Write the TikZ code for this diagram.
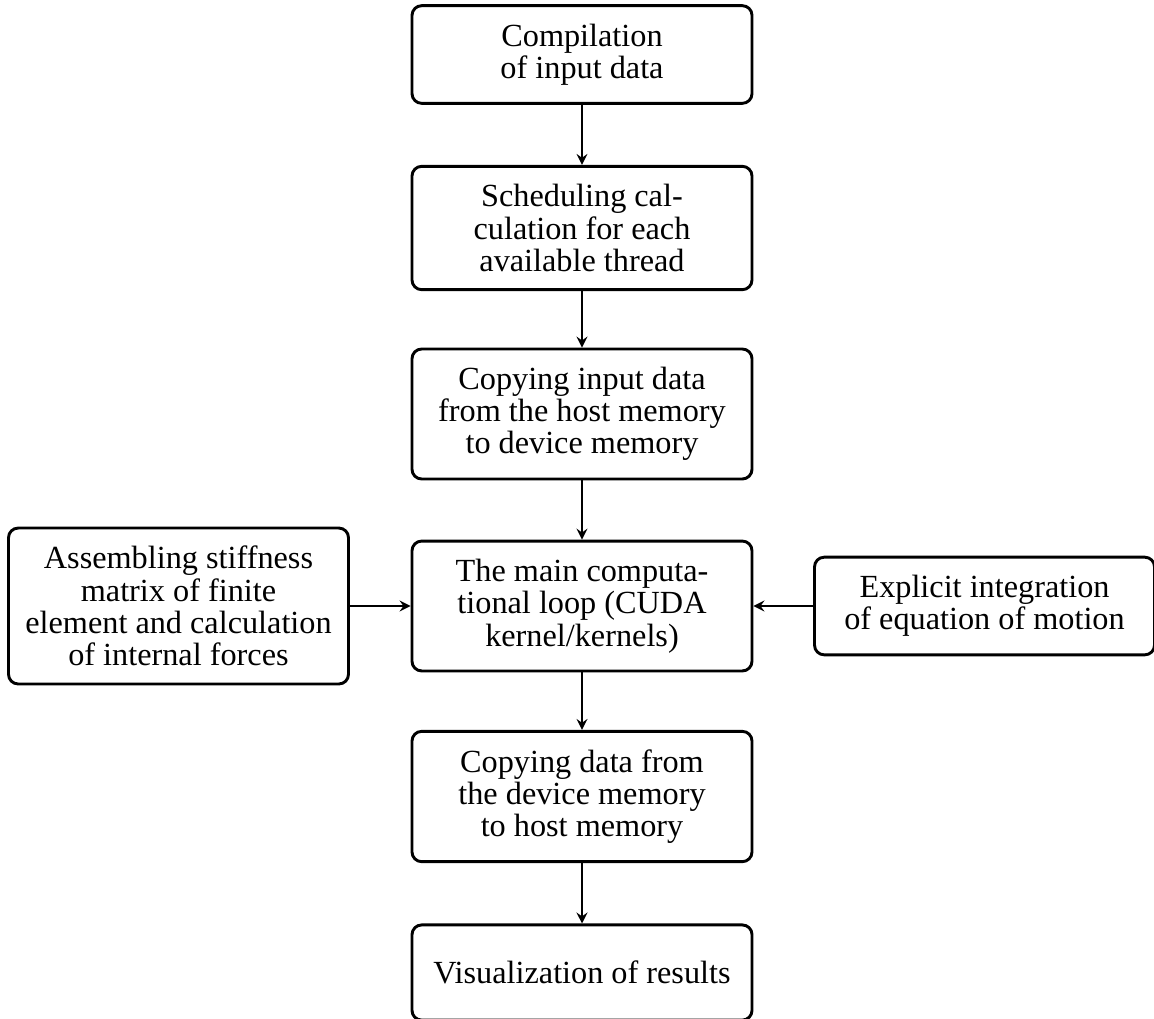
\documentclass[tikz,border=0pt]{standalone}
\usepackage{fontspec}
\setmainfont{Liberation Serif}
\usetikzlibrary{arrows.meta}

\tikzset{
  block/.style={draw, line width=0.9pt, rounded corners=3pt, align=center,
    minimum width=105.4pt, inner xsep=4pt, inner ysep=5.6pt,
    font=\fontsize{10pt}{10pt}\selectfont},
  flow/.style={line width=0.6pt, -{Stealth[length=3.4pt,width=3.4pt,inset=1.2pt]}}
}

\begin{document}
\begin{tikzpicture}[x=0.31pt,y=-0.31pt]
    \useasboundingbox (0,0) rectangle (1154,1018);

    % main column
    \node[block] (B1) at (582,54.5) {Compilation\\of input data};
    \node[block] (B2) at (582,228) {Scheduling cal-\\culation for each\\available thread};
    \node[block] (B3) at (582,414) {Copying input data\\from the host memory\\to device memory};
    \node[block] (B4) at (582,606) {The main computa-\\tional loop (CUDA\\kernel/kernels)};
    \node[block] (B5) at (582,796.5) {Copying data from\\the device memory\\to host memory};
    \node[block,minimum height=29.5pt] (B6) at (582,972.5) {Visualization of results};

    % side inputs
    \node[block] (L) at (178.5,606) {Assembling stiffness\\matrix of finite\\element and calculation\\of internal forces};
    \node[block] (R) at (984.5,606) {Explicit integration\\of equation of motion};

    \draw[flow] (B1) -- (B2);
    \draw[flow] (B2) -- (B3);
    \draw[flow] (B3) -- (B4);
    \draw[flow] (B4) -- (B5);
    \draw[flow] (B5) -- (B6);
    \draw[flow] (L) -- (B4);
    \draw[flow] (R) -- (B4);
\end{tikzpicture}
\end{document}
